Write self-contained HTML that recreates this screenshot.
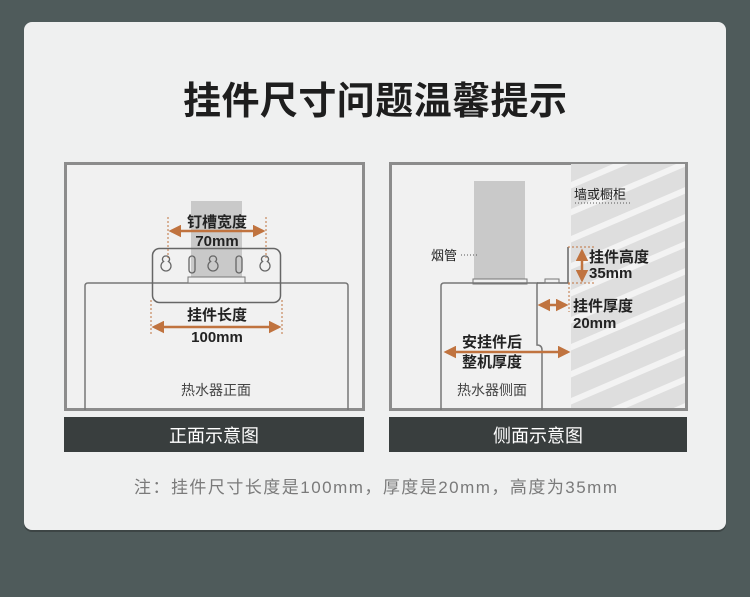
<!DOCTYPE html>
<html><head><meta charset="utf-8"><style>
html,body{margin:0;padding:0;background:#4f5b5b;}
svg{display:block;font-family:"Liberation Sans","Noto Sans CJK SC",sans-serif;}
</style></head><body>
<svg width="750" height="597" viewBox="0 0 750 597" xmlns="http://www.w3.org/2000/svg">
<defs>
<marker id="a" viewBox="0 0 10 10" refX="8" refY="5" markerWidth="5" markerHeight="5" orient="auto-start-reverse"><path d="M0,0 L10,5 L0,10 z" fill="#c0733f"/></marker>
<clipPath id="wc"><rect x="571" y="164" width="114" height="244"/></clipPath>
</defs>
<rect width="750" height="597" fill="#4f5b5b"/>
<rect x="24" y="23" width="702" height="509" rx="8" fill="#3d4545"/>
<rect x="24" y="22" width="702" height="508" rx="8" fill="#eff0f0"/>
<text x="375" y="114" font-size="38" font-weight="bold" text-anchor="middle" fill="#1e1e1e" textLength="384">挂件尺寸问题温馨提示</text>

<!-- LEFT PANEL -->
<rect x="65.5" y="163.5" width="298" height="246" fill="#f1f1f1" stroke="#8c8c8c" stroke-width="3"/>
<rect x="191" y="201" width="51" height="82" fill="#c9c9c9"/>
<path d="M85,410 V286 Q85,283 88,283 H345 Q348,283 348,286 V410" fill="none" stroke="#777" stroke-width="1.5"/>
<rect x="188" y="277" width="57" height="6" fill="#f1f1f1" stroke="#777"/>
<rect x="152.5" y="248.5" width="128" height="54" rx="7" fill="none" stroke="#666" stroke-width="1.5"/>
<g fill="none" stroke="#666" stroke-width="1.3">
<path d="M166,256 a3.2,3.2 0 0,1 2.4,5.6 a5,5 0 1,1 -4.8,0 a3.2,3.2 0 0,1 2.4,-5.6 z"/>
<path d="M213,256 a3.2,3.2 0 0,1 2.4,5.6 a5,5 0 1,1 -4.8,0 a3.2,3.2 0 0,1 2.4,-5.6 z"/>
<path d="M265,256 a3.2,3.2 0 0,1 2.4,5.6 a5,5 0 1,1 -4.8,0 a3.2,3.2 0 0,1 2.4,-5.6 z"/>
<rect x="189" y="256" width="6" height="17" rx="3"/>
<rect x="236" y="256" width="6" height="17" rx="3"/>
</g>
<g stroke="#c0733f" stroke-dasharray="2,2" stroke-width="1">
<line x1="168" y1="217" x2="168" y2="258"/><line x1="266" y1="217" x2="266" y2="258"/>
<line x1="151" y1="300" x2="151" y2="336"/><line x1="282" y1="300" x2="282" y2="336"/>
</g>
<g stroke="#c0733f" stroke-width="2.5">
<line x1="171" y1="231" x2="263" y2="231" marker-start="url(#a)" marker-end="url(#a)"/>
<line x1="154" y1="327" x2="279" y2="327" marker-start="url(#a)" marker-end="url(#a)"/>
</g>
<g font-size="15" font-weight="bold" fill="#222" text-anchor="middle">
<text x="217" y="227">钉槽宽度</text><text x="217" y="246">70mm</text>
<text x="217" y="320">挂件长度</text><text x="217" y="342">100mm</text>
</g>
<text x="216" y="395" font-size="14" fill="#444" text-anchor="middle">热水器正面</text>
<rect x="64" y="417" width="300" height="35" fill="#393e3e"/>
<text x="214" y="442" font-size="18" fill="#fff" text-anchor="middle">正面示意图</text>

<!-- RIGHT PANEL -->
<rect x="390.5" y="163.5" width="296" height="246" fill="#f1f1f1" stroke="#8c8c8c" stroke-width="3"/>
<rect x="571" y="164" width="114" height="244" fill="#dedede"/>
<g clip-path="url(#wc)" stroke="#f3f3f3" stroke-width="6">
<line x1="560" y1="190" x2="700" y2="130"/><line x1="560" y1="217" x2="700" y2="157"/>
<line x1="560" y1="244" x2="700" y2="184"/><line x1="560" y1="271" x2="700" y2="211"/>
<line x1="560" y1="298" x2="700" y2="238"/><line x1="560" y1="325" x2="700" y2="265"/>
<line x1="560" y1="352" x2="700" y2="292"/><line x1="560" y1="379" x2="700" y2="319"/>
<line x1="560" y1="406" x2="700" y2="346"/><line x1="560" y1="433" x2="700" y2="373"/>
<line x1="560" y1="460" x2="700" y2="400"/>
</g>
<rect x="474" y="181" width="51" height="99" fill="#c9c9c9"/>
<rect x="473" y="279" width="54" height="5" fill="#f1f1f1" stroke="#777"/>
<path d="M441,410 V286 Q441,283 444,283 H537 V345 Q542,345 542,350 V410" fill="none" stroke="#777" stroke-width="1.5"/>
<path d="M537,283 H568 V247" fill="none" stroke="#666" stroke-width="1.5"/>
<rect x="545" y="279" width="14" height="4" fill="none" stroke="#777"/>
<g stroke="#c0733f" stroke-dasharray="2,2" stroke-width="1" fill="none">
<path d="M568,247 H595 M568,283 H595 M569,283 V312"/>
</g>
<g stroke="#c0733f" stroke-width="2.5">
<line x1="582" y1="251" x2="582" y2="280" marker-start="url(#a)" marker-end="url(#a)"/>
<line x1="540" y1="305" x2="566" y2="305" marker-start="url(#a)" marker-end="url(#a)"/>
<line x1="446" y1="352" x2="568" y2="352" marker-start="url(#a)" marker-end="url(#a)"/>
</g>
<g font-size="15" font-weight="bold" fill="#222">
<text x="589" y="262">挂件高度</text><text x="589" y="278">35mm</text>
<text x="573" y="311">挂件厚度</text><text x="573" y="328">20mm</text>
<text x="492" y="347" text-anchor="middle">安挂件后</text><text x="492" y="367" text-anchor="middle">整机厚度</text>
</g>
<text x="574" y="199" font-size="13" fill="#222">墙或橱柜</text>
<line x1="575" y1="203" x2="630" y2="203" stroke="#555" stroke-dasharray="1,2"/>
<text x="431" y="260" font-size="13" fill="#222">烟管</text>
<line x1="461" y1="255" x2="478" y2="255" stroke="#555" stroke-dasharray="1,2"/>
<text x="492" y="395" font-size="14" fill="#444" text-anchor="middle">热水器侧面</text>
<rect x="389" y="417" width="298" height="35" fill="#393e3e"/>
<text x="538" y="442" font-size="18" fill="#fff" text-anchor="middle">侧面示意图</text>

<text x="134" y="493" font-size="17" fill="#7a7a7a" textLength="483">注：挂件尺寸长度是100mm，厚度是20mm，高度为35mm</text>
</svg>
</body></html>
